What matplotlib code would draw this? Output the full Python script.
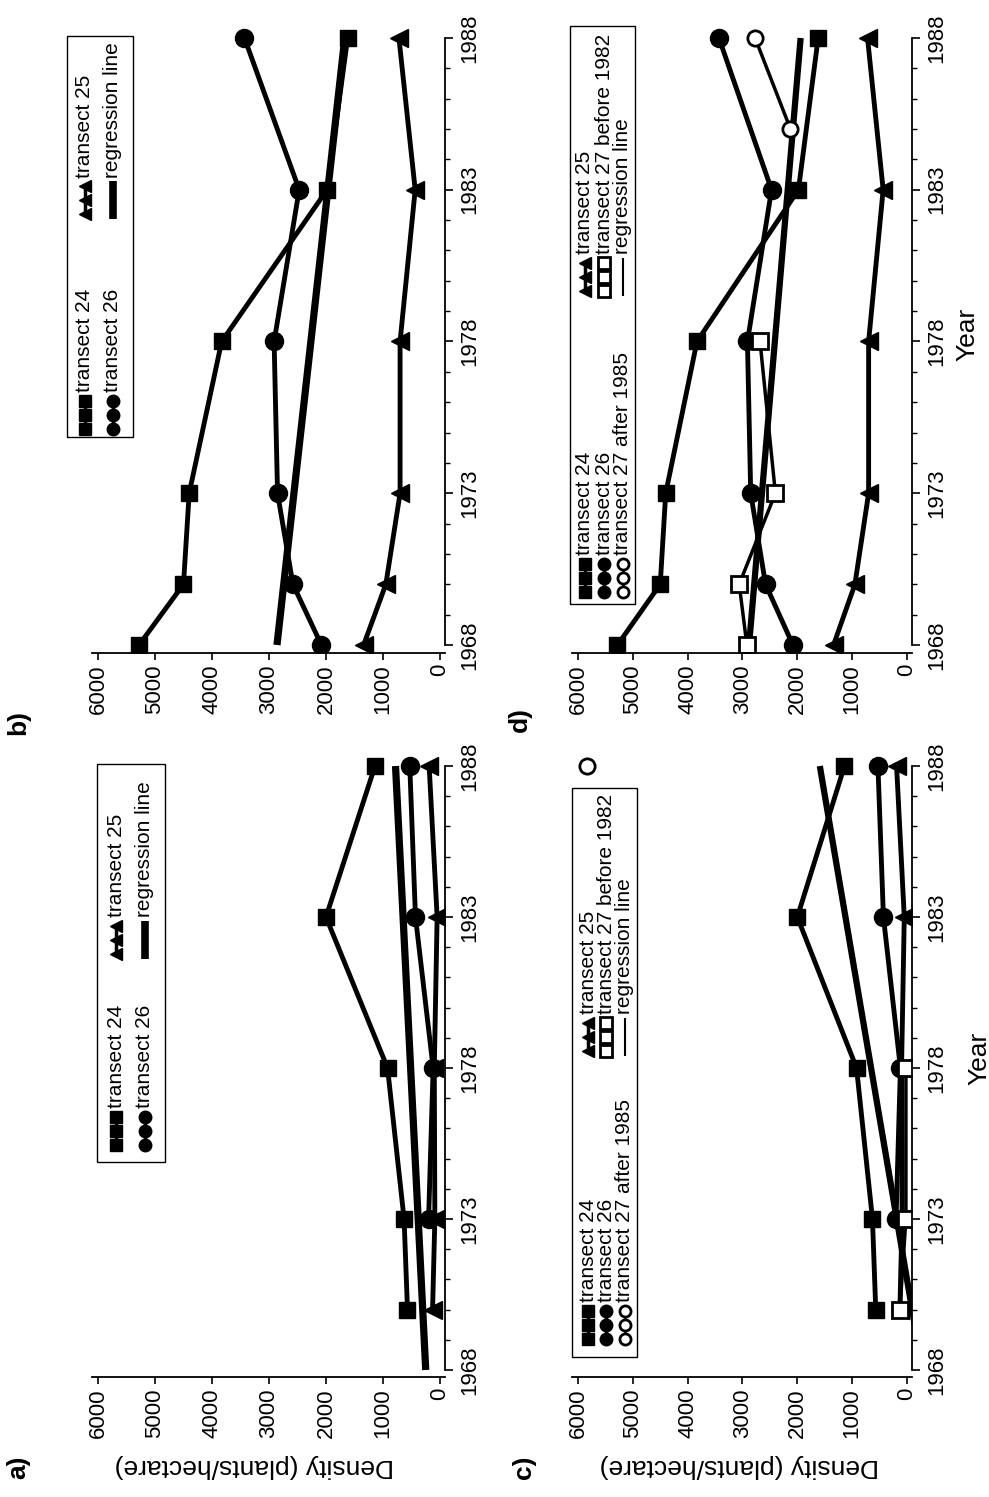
import matplotlib
matplotlib.use('Agg')
import matplotlib.pyplot as plt
from matplotlib.lines import Line2D
from matplotlib.patches import Rectangle
from matplotlib.ticker import FixedLocator, MultipleLocator, StrMethodFormatter

plt.rcParams['font.family'] = ['Liberation Sans', 'DejaVu Sans']

# ---------------- data ----------------
density_ticks = [0, 1000, 2000, 3000, 4000, 5000, 6000]
year_ticks = [1968, 1973, 1978, 1983, 1988]

# site of panels b and d
years_bd = [1968, 1970, 1973, 1978, 1983, 1988]
t24_bd = [5280, 4500, 4400, 3830, 1980, 1620]
t26_bd = [2080, 2580, 2850, 2910, 2470, 3430]
t25_bd = [1340, 950, 700, 700, 435, 720]
t27_before_d_years = [1968, 1970, 1973, 1978]
t27_before_d = [2920, 3060, 2400, 2680]
t27_after_d_years = [1985, 1988]
t27_after_d = [2125, 2770]

# site of panels a and c
years_t24_ac = [1970, 1973, 1978, 1983, 1988]
t24_ac = [570, 630, 920, 2000, 1140]
years_t26_ac = [1973, 1978, 1983, 1988]
t26_ac = [200, 120, 430, 530]
years_t25_ac = [1970, 1973, 1978, 1983, 1988]
t25_ac = [130, 90, 100, 50, 190]
t27_before_c_years = [1970, 1973, 1978]
t27_before_c = [130, 20, 20]
t27_after_c_years = [1988]
t27_after_c = [5830]

# regression lines (end points)
reg_years = [1968, 1988]
reg_a = [250, 780]
reg_b = [2860, 1670]
reg_c = [-280, 1590]
reg_d = [2880, 1940]

# ---------------- figure ----------------
W, H = 989, 1497
fig = plt.figure(figsize=(W / 100, H / 100), dpi=100)


def fx(x):
    return x / W


def fy(y):
    return 1 - y / H


def add_panel(L, R, T, B, xlim, ylim):
    ax = fig.add_axes([L / W, 1 - B / H, (R - L) / W, (B - T) / H])
    ax.set_xlim(*xlim)
    ax.set_ylim(*ylim)
    ax.patch.set_alpha(0)
    ax.spines['left'].set_visible(False)
    ax.spines['top'].set_visible(False)
    ax.spines['right'].set_bounds(1968, 1988)
    for s in ('right', 'bottom'):
        ax.spines[s].set_linewidth(1.3)
    ax.xaxis.set_major_locator(FixedLocator(density_ticks))
    ax.xaxis.set_major_formatter(StrMethodFormatter('{x:.0f}'))
    ax.yaxis.set_major_locator(FixedLocator(year_ticks))
    ax.yaxis.set_minor_locator(MultipleLocator(1))
    ax.yaxis.set_major_formatter(StrMethodFormatter('{x:.0f}'))
    ax.yaxis.tick_right()
    ax.tick_params(axis='x', direction='out', length=5, width=1.2,
                   labelsize=16, labelrotation=90, pad=3)
    ax.tick_params(axis='y', which='major', direction='out', length=6,
                   width=1.2, labelsize=16, labelrotation=90, pad=4)
    ax.tick_params(axis='y', which='minor', direction='out', length=3.5,
                   width=1.0)
    for lab in ax.get_yticklabels():
        lab.set_va('center')
    return ax


LEFT = (92, 445, (6105, -88))
RIGHT = (572, 912, (6109, -91))
TOP = (23, 653, (1967.736, 1988.494))
BOTTOM = (751, 1377, (1967.768, 1988.497))

ax_b = add_panel(LEFT[0], LEFT[1], TOP[0], TOP[1], LEFT[2], TOP[2])
ax_d = add_panel(RIGHT[0], RIGHT[1], TOP[0], TOP[1], RIGHT[2], TOP[2])
ax_a = add_panel(LEFT[0], LEFT[1], BOTTOM[0], BOTTOM[1], LEFT[2], BOTTOM[2])
ax_c = add_panel(RIGHT[0], RIGHT[1], BOTTOM[0], BOTTOM[1], RIGHT[2], BOTTOM[2])

st24 = dict(marker='s', ms=12, mfc='black', mec='black', color='black', lw=3.5)
st26 = dict(marker='o', ms=13, mfc='black', mec='black', color='black', lw=3.5)
st25 = dict(marker='<', ms=13, mfc='black', mec='black', color='black', lw=3.5)
st27b = dict(marker='s', ms=11, mfc='white', mec='black', mew=2, color='black', lw=2.5)
st27a = dict(marker='o', ms=11, mfc='white', mec='black', mew=2, color='black', lw=2.5)

# panel b
ax_b.plot(reg_b, reg_years, color='black', lw=5.2, solid_capstyle='butt')
ax_b.plot(t24_bd, years_bd, **st24)
ax_b.plot(t26_bd, years_bd, **st26)
ax_b.plot(t25_bd, years_bd, **st25)

# panel d
ax_d.plot(reg_d, reg_years, color='black', lw=4.5, solid_capstyle='butt')
ax_d.plot(t24_bd, years_bd, **st24)
ax_d.plot(t26_bd, years_bd, **st26)
ax_d.plot(t25_bd, years_bd, **st25)
ax_d.plot(t27_before_d, t27_before_d_years, **st27b)
ax_d.plot(t27_after_d, t27_after_d_years, **st27a)

# panel a
ax_a.plot(reg_a, reg_years, color='black', lw=5.2, solid_capstyle='butt')
ax_a.plot(t24_ac, years_t24_ac, **st24)
ax_a.plot(t26_ac, years_t26_ac, **st26)
ax_a.plot(t25_ac, years_t25_ac, **st25)

# panel c
ax_c.plot(reg_c, reg_years, color='black', lw=4.5, solid_capstyle='butt')
ax_c.plot(t24_ac, years_t24_ac, **st24)
ax_c.plot(t26_ac, years_t26_ac, **st26)
ax_c.plot(t25_ac, years_t25_ac, **st25)
ax_c.plot(t27_before_c, t27_before_c_years, **st27b)
ax_c.plot(t27_after_c, t27_after_c_years, **st27a)


# ---------------- legends (drawn rotated) ----------------
def handle(kind, xc, yc):
    if kind in ('reg_thick', 'reg_thin'):
        lw = 5.5 if kind == 'reg_thick' else 1.5
        fig.add_artist(Line2D([fx(xc), fx(xc)], [fy(yc - 19), fy(yc + 19)],
                              transform=fig.transFigure, color='black', lw=lw,
                              solid_capstyle='butt'))
        return
    base = {'t24': st24, 't26': st26, 't25': st25, 't27b': st27b, 't27a': st27a}[kind]
    kw = dict(base)
    kw['ms'] = 9 if kind in ('t24', 't26', 't25') else 8
    kw['lw'] = 2.5 if kind in ('t24', 't26', 't25') else 1.8
    fig.add_artist(Line2D([fx(xc)] * 3, [fy(yc - 14), fy(yc), fy(yc + 14)],
                          transform=fig.transFigure, **kw))


def legend(box, entries):
    x0, x1, y0, y1 = box
    fig.add_artist(Rectangle((fx(x0), fy(y1)), (x1 - x0) / W, (y1 - y0) / H,
                             transform=fig.transFigure, fc='white', ec='black',
                             lw=1.0, zorder=1))
    for kind, label, xc, yh, yt in entries:
        handle(kind, xc, yh)
        fig.text(fx(xc), fy(yt), label, rotation=90, rotation_mode='anchor',
                 ha='left', va='center', fontsize=15)


legend((67, 133, 36, 437), [
    ('t24', 'transect 24', 85, 415, 392),
    ('t26', 'transect 26', 113, 415, 392),
    ('t25', 'transect 25', 85, 200, 178),
    ('reg_thick', 'regression line', 113, 200, 178),
])
legend((97, 165, 764, 1162), [
    ('t24', 'transect 24', 116, 1131, 1108),
    ('t26', 'transect 26', 145, 1131, 1108),
    ('t25', 'transect 25', 116, 940, 917),
    ('reg_thick', 'regression line', 145, 940, 917),
])
legend((570, 635, 26, 604), [
    ('t24', 'transect 24', 585, 578, 555),
    ('t26', 'transect 26', 604, 578, 555),
    ('t27a', 'transect 27 after 1985', 623, 578, 555),
    ('t25', 'transect 25', 585, 277, 254),
    ('t27b', 'transect 27 before 1982', 604, 277, 254),
    ('reg_thin', 'regression line', 623, 277, 254),
])
legend((572, 637, 788, 1357), [
    ('t24', 'transect 24', 588, 1325, 1302),
    ('t26', 'transect 26', 606, 1325, 1302),
    ('t27a', 'transect 27 after 1985', 625, 1325, 1302),
    ('t25', 'transect 25', 588, 1037, 1014),
    ('t27b', 'transect 27 before 1982', 606, 1037, 1014),
    ('reg_thin', 'regression line', 625, 1037, 1014),
])

# ---------------- labels ----------------
for lab, x, y in [('b)', 18, 723), ('d)', 520, 720), ('a)', 18, 1467), ('c)', 524, 1467)]:
    fig.text(fx(x), fy(y), lab, rotation=90, ha='center', va='center',
             fontsize=19, fontweight='bold')

for x, y in [(254, 1466), (739, 1466)]:
    fig.text(fx(x), fy(y), 'Density (plants/hectare)', rotation=180,
             ha='center', va='center', fontsize=19)

for x, y in [(967, 334), (979, 1058)]:
    fig.text(fx(x), fy(y), 'Year', rotation=90, ha='center', va='center',
             fontsize=19)

fig.savefig('out.png', dpi=100, facecolor='white')
